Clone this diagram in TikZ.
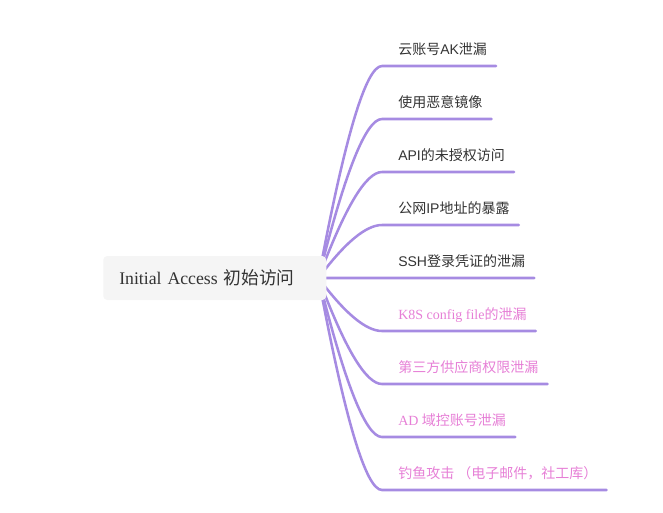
\documentclass[tikz,border=0pt]{standalone}
\usepackage{fontspec}
\setmainfont{Liberation Serif}
\setsansfont{Liberation Sans}
\newfontfamily\cjk{Noto Sans CJK SC}
\usetikzlibrary{calc,backgrounds}
\definecolor{ink}{HTML}{333333}
\definecolor{rose}{HTML}{E67FD6}
\definecolor{lilac}{HTML}{A68BE2}
\definecolor{panel}{HTML}{F5F5F5}

\begin{document}
\begin{tikzpicture}[
  x=0.75pt,y=-0.75pt,
  rootbox/.style={anchor=west,rounded corners=3pt,fill=panel,text=ink,inner xsep=12pt,text width=143.25pt,align=left,minimum height=33pt,font=\rmfamily\fontsize{13.3pt}{16pt}\selectfont},
  leaf/.style={anchor=south west,inner xsep=6.75pt,inner ysep=0pt,text depth=8.5pt,text=ink,font=\sffamily\fontsize{10.5pt}{12pt}\selectfont,execute at begin node={\hspace*{5.25pt}}},
  hot/.style={leaf,text=rose,font=\rmfamily\fontsize{10.5pt}{12pt}\selectfont},
  limb/.style={draw=lilac,line width=1.9pt,line cap=round,to path={.. controls ($(\tikztostart)!0.667!($(\tikztotarget)+(-24,0)$)$) and ($(\tikztotarget)+(-16,0)$) .. (\tikztotarget)}}
]
\useasboundingbox (0,0) rectangle (663,512);
\node[rootbox] (root) at (103,278) {Initial Access {\cjk 初始访问}};
\coordinate (hub) at ([xshift=-6pt]root.east);
\node[leaf] (t1) at (382,66) {{\cjk 云账号}AK{\cjk 泄漏}};
\node[leaf] (t2) at (382,119) {{\cjk 使用恶意镜像}};
\node[leaf] (t3) at (382,172) {API{\cjk 的未授权访问}};
\node[leaf] (t4) at (382,225) {{\cjk 公网}IP{\cjk 地址的暴露}};
\node[leaf] (t5) at (382,278) {SSH{\cjk 登录凭证的泄漏}};
\node[hot] (t6) at (382,331) {K8S config file{\cjk 的泄漏}};
\node[hot] (t7) at (382,384) {{\cjk 第三方供应商权限泄漏}};
\node[hot] (t8) at (382,437) {AD {\cjk 域控账号泄漏}};
\node[hot] (t9) at (382,490) {{\cjk 钓鱼攻击 （电子邮件，社工库）}};
\begin{scope}[on background layer]
  \draw[limb] (hub) to (t1.south west) -- (t1.south east);
  \draw[limb] (hub) to (t2.south west) -- (t2.south east);
  \draw[limb] (hub) to (t3.south west) -- (t3.south east);
  \draw[limb] (hub) to (t4.south west) -- (t4.south east);
  \draw[limb] (hub) to (t5.south west) -- (t5.south east);
  \draw[limb] (hub) to (t6.south west) -- (t6.south east);
  \draw[limb] (hub) to (t7.south west) -- (t7.south east);
  \draw[limb] (hub) to (t8.south west) -- (t8.south east);
  \draw[limb] (hub) to (t9.south west) -- (t9.south east);
\end{scope}
\end{tikzpicture}
\end{document}
